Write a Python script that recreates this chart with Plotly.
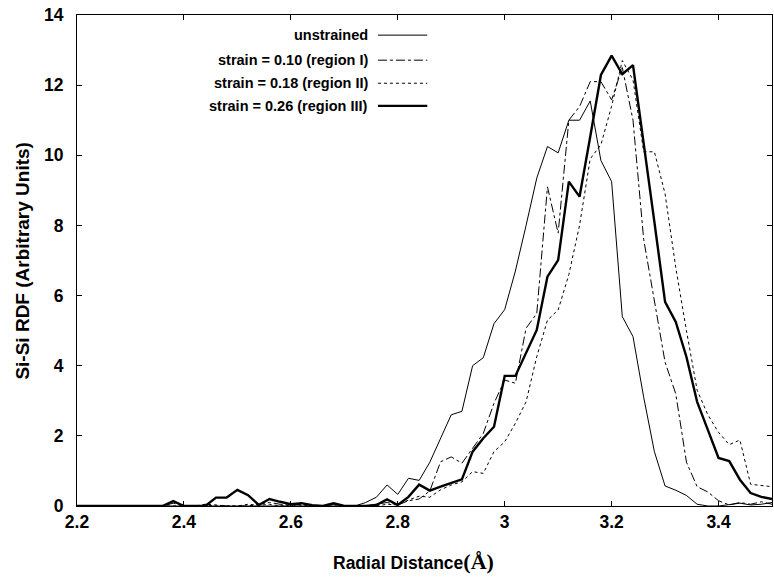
import plotly.graph_objects as go

radial_distance = [2.20, 2.22, 2.24, 2.26, 2.28, 2.30, 2.32, 2.34, 2.36, 2.38,
                   2.40, 2.42, 2.44, 2.46, 2.48, 2.50, 2.52, 2.54, 2.56, 2.58,
                   2.60, 2.62, 2.64, 2.66, 2.68, 2.70, 2.72, 2.74, 2.76, 2.78,
                   2.80, 2.82, 2.84, 2.86, 2.88, 2.90, 2.92, 2.94, 2.96, 2.98,
                   3.00, 3.02, 3.04, 3.06, 3.08, 3.10, 3.12, 3.14, 3.16, 3.18,
                   3.20, 3.22, 3.24, 3.26, 3.28, 3.30, 3.32, 3.34, 3.36, 3.38,
                   3.40, 3.42, 3.44, 3.46, 3.48, 3.50]

rdf_unstrained = [0, 0, 0, 0, 0, 0, 0, 0, 0, 0,
                  0, 0, 0, 0, 0, 0, 0, 0, 0, 0,
                  0, 0, 0, 0, 0, 0, 0, 0.10, 0.25, 0.60,
                  0.33, 0.79, 0.73, 1.25, 1.90, 2.60, 2.70, 4.00, 4.23, 5.20,
                  5.60, 6.70, 8.00, 9.35, 10.25, 10.07, 11.00, 11.00, 11.55, 9.85,
                  9.25, 5.40, 4.83, 3.10, 1.55, 0.57, 0.45, 0.30, 0.05, 0,
                  0, 0.05, 0.08, 0.03, 0.05, 0.10]

rdf_strain_010 = [0, 0, 0, 0, 0, 0, 0, 0, 0, 0.08,
                  0, 0, 0.05, 0.03, 0, 0, 0, 0.05, 0.10, 0.05,
                  0.02, 0.05, 0, 0, 0.05, 0, 0, 0, 0.05, 0.10,
                  0.03, 0.15, 0.20, 0.43, 1.26, 1.40, 1.22, 1.65, 2.07, 2.93,
                  3.59, 3.50, 5.07, 5.49, 9.10, 7.78, 11.00, 11.39, 12.10, 12.10,
                  11.58, 12.50, 11.00, 7.60, 5.80, 4.10, 3.20, 1.25, 0.55, 0.40,
                  0.15, 0.03, 0.10, 0.05, 0.12, 0.05]

rdf_strain_018 = [0, 0, 0, 0, 0, 0, 0, 0, 0, 0,
                  0, 0, 0.03, 0, 0, 0, 0.05, 0.02, 0.05, 0,
                  0.03, 0.02, 0, 0, 0, 0, 0, 0, 0, 0.05,
                  0.03, 0.17, 0.28, 0.25, 0.46, 0.60, 0.69, 0.98, 0.93, 1.55,
                  1.83, 2.36, 2.97, 4.26, 5.30, 5.59, 6.60, 8.00, 9.90, 10.30,
                  11.40, 12.70, 12.15, 10.10, 10.10, 8.90, 6.80, 5.00, 3.30, 2.60,
                  2.10, 1.75, 1.88, 0.62, 0.58, 0.55]

rdf_strain_026 = [0, 0, 0, 0, 0, 0, 0, 0, 0, 0.14,
                  0, 0, 0, 0.24, 0.24, 0.46, 0.31, 0.03, 0.20, 0.12,
                  0.05, 0.08, 0.02, 0, 0.08, 0, 0, 0, 0.03, 0.19,
                  0.03, 0.26, 0.61, 0.44, 0.55, 0.66, 0.76, 1.55, 1.93, 2.26,
                  3.71, 3.71, 4.35, 5.02, 6.54, 7.01, 9.25, 8.82, 10.53, 12.29,
                  12.84, 12.31, 12.57, 10.40, 8.10, 5.82, 5.25, 4.25, 2.97, 2.17,
                  1.37, 1.28, 0.75, 0.37, 0.26, 0.20]

series_names = ["unstrained", "strain = 0.10 (region I)",
                "strain = 0.18 (region II)", "strain = 0.26 (region III)"]
series_values = [rdf_unstrained, rdf_strain_010, rdf_strain_018, rdf_strain_026]
series_dash = ["solid", "dashdot", "dot", "solid"]
series_width = [1, 1, 1, 2.4]

x_ticks = [2.2, 2.4, 2.6, 2.8, 3.0, 3.2, 3.4]
x_tick_labels = ["2.2", "2.4", "2.6", "2.8", "3", "3.2", "3.4"]
y_ticks = [0, 2, 4, 6, 8, 10, 12, 14]

FONT = "Liberation Sans, Arial, sans-serif"

fig = go.Figure()
for name, vals, dash, w in zip(series_names, series_values, series_dash, series_width):
    fig.add_trace(go.Scatter(x=radial_distance, y=vals, mode="lines", name=name,
                             line=dict(color="black", width=w, dash=dash),
                             showlegend=False))

# custom legend (text right-aligned, sample line to the right, like gnuplot)
legend_y = [0.959, 0.908, 0.861, 0.815]
for name, dash, w, yy in zip(series_names, series_dash, series_width, legend_y):
    fig.add_annotation(xref="paper", yref="paper", x=0.421, y=yy, text=name,
                       showarrow=False, xanchor="right", yanchor="middle",
                       font=dict(family=FONT, size=14.5, color="black", weight="bold"))
    fig.add_shape(type="line", xref="paper", yref="paper",
                  x0=0.433, x1=0.504, y0=yy, y1=yy,
                  line=dict(color="black", width=w, dash=dash))

axis_common = dict(showline=True, linecolor="black", linewidth=1, mirror="ticks",
                   ticks="inside", ticklen=5, tickcolor="black", showgrid=False,
                   zeroline=False,
                   tickfont=dict(family=FONT, size=17.5, color="black", weight="bold"))

fig.update_xaxes(range=[2.2, 3.5], tickvals=x_ticks, ticktext=x_tick_labels,
                 **axis_common)
fig.update_yaxes(range=[0, 14], tickvals=y_ticks, ticklabelstandoff=9, **axis_common)

fig.add_annotation(xref="paper", yref="paper", x=0.484, y=-0.114, yanchor="middle",
                   text="Radial Distance<span style='font-family:Liberation Serif, Times New Roman, serif;font-size:22px'>(Å)</span>",
                   showarrow=False,
                   font=dict(family=FONT, size=17.5, color="black", weight="bold"))
fig.add_annotation(xref="paper", yref="paper", x=-0.079, y=0.5, xanchor="center",
                   text="Si-Si RDF (Arbitrary Units)", textangle=-90, showarrow=False,
                   font=dict(family=FONT, size=19, color="black", weight="bold"))

fig.update_layout(width=774, height=578, margin=dict(l=77, r=2, t=15, b=72),
                  plot_bgcolor="white", paper_bgcolor="white", showlegend=False)

# remove the default 8px page margin so the figure sits at the window's corner
fig.write_html("out.html", config={"displayModeBar": False},
               post_script="document.body.style.margin='0';")
